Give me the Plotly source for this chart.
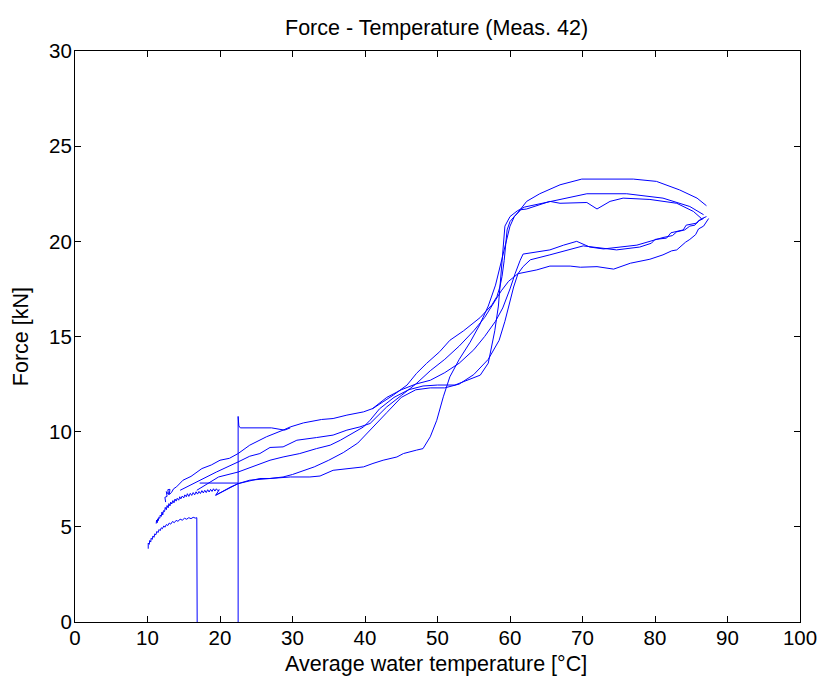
import plotly.graph_objects as go

# ---- data (temperature [°C], force [kN]) ----
start_T = [22.5, 22.5, 22.6, 22.8, 25.0, 27.1, 28.9, 29.7]
start_F = [0.0, 10.8, 10.3, 10.2, 10.2, 10.2, 10.08, 10.2]

top_T = [12.5, 12.4, 12.7, 12.6, 12.9, 12.8, 13.1, 13.0, 13.3, 13.6, 14.0, 14.9, 16.0, 17.5, 18.8, 20.0, 21.3,
         22.5, 24.1, 25.5, 26.4, 28.7, 29.7, 31.5, 34.0, 35.6, 37.5, 39.8, 41.1, 42.5, 43.9, 45.8, 47.1,
         48.5, 50.3, 51.7, 53.6, 55.9, 57.5, 58.2, 58.6, 58.9, 59.2, 59.6, 60.0, 61.4, 62.3, 64.1, 66.9,
         69.9, 73.0, 77.0, 80.2, 83.4, 85.8, 87.1]
top_F = [6.3, 6.55, 6.6, 6.85, 6.7, 6.95, 6.97, 6.7, 6.8, 7.0, 7.1, 7.45, 7.65, 8.06, 8.25, 8.5, 8.6,
         8.85, 9.29, 9.55, 9.73, 10.08, 10.25, 10.46, 10.64, 10.69, 10.87, 11.04, 11.22, 11.57, 11.92, 12.45, 13.06,
         13.59, 14.2, 14.8, 15.3, 16.0, 16.66, 17.1, 17.6, 18.15, 19.0, 20.6, 21.04, 21.66, 22.1, 22.5, 22.97,
         23.27, 23.27, 23.27, 23.15, 22.7, 22.27, 21.87]

mid_T = [11.2, 11.25, 11.35, 11.4, 11.5, 11.55, 11.7, 11.75, 11.9, 12.0, 12.1, 12.2, 12.35, 12.45, 12.6, 12.7,
         12.85, 12.95, 13.1, 13.2, 13.35, 13.5, 13.65, 13.8, 13.95, 14.1, 14.3, 14.45, 14.6, 14.8, 15.0, 15.15,
         15.35, 15.5, 15.7, 15.9, 16.1, 16.3, 16.5, 16.7, 16.9, 17.1, 17.3, 17.5, 17.7, 17.9, 18.1, 18.3,
         18.5, 18.7, 18.9, 19.1, 19.3, 19.5, 19.7, 19.9, 19.4, 20.5,
         21.5, 22.5, 24.1, 26.9, 29.7, 32.4, 33.8, 35.6, 37.9, 39.8, 41.1, 42.5, 44.4, 45.3, 47.1, 48.0,
         49.0, 49.9, 50.8, 51.7, 53.0, 54.5, 55.8, 57.0, 58.0, 59.0, 60.0, 60.6, 61.5, 62.3, 65.5, 66.9,
         70.6, 72.0, 73.8, 75.6, 79.3, 83.0, 85.3, 86.4]
mid_F = [5.17, 5.35, 5.22, 5.42, 5.33, 5.5, 5.45, 5.62, 5.55, 5.78, 5.62, 5.85, 5.8, 6.02, 5.9, 6.12,
         6.0, 6.22, 6.1, 6.3, 6.2, 6.38, 6.26, 6.46, 6.35, 6.5, 6.4, 6.58, 6.47, 6.62, 6.52, 6.68,
         6.58, 6.74, 6.6, 6.76, 6.65, 6.8, 6.68, 6.84, 6.72, 6.86, 6.75, 6.9, 6.78, 6.92, 6.8, 6.95,
         6.83, 6.97, 6.86, 7.0, 6.88, 7.0, 6.9, 6.95, 6.66, 6.9,
         7.1, 7.27, 7.45, 7.54, 7.62, 7.62, 7.67, 7.97, 8.06, 8.15, 8.33, 8.5, 8.67, 8.85, 9.03, 9.11,
         9.73, 10.6, 11.83, 12.88, 13.8, 14.7, 15.6, 16.6, 17.7, 19.2, 20.8, 21.3, 21.66, 21.7, 22.1, 22.0,
         22.04, 21.7, 22.1, 22.27, 22.2, 22.0, 21.57, 21.2]

low2_T = [14.5, 16.8, 19.5, 22.5, 24.1, 25.5, 26.9, 28.7, 30.6, 33.3, 35.6, 37.5, 39.3, 40.7, 41.6, 43.0,
          45.0, 47.0, 49.0, 51.0, 53.0, 55.0, 56.5, 57.8, 58.8, 59.8, 60.5, 61.1, 61.8, 62.8, 65.5, 70.1,
          74.7, 77.9, 79.5, 80.0, 81.6, 82.2, 83.9, 84.3, 85.8, 86.2, 87.1]
low2_F = [6.92, 7.36, 7.88, 8.41, 8.71, 8.85, 9.17, 9.2, 9.55, 9.69, 9.82, 10.08, 10.25, 10.43, 10.78, 11.3,
          11.9, 12.5, 13.2, 13.8, 14.5, 15.3, 16.0, 16.8, 17.4, 17.9, 18.1, 18.3, 18.67, 19.03, 19.29, 19.76,
          19.55, 19.7, 19.9, 20.1, 20.17, 20.45, 20.6, 20.85, 20.96, 21.15, 21.3]

low3_T = [16.8, 19.8, 22.5, 24.1, 25.5, 26.9, 28.7, 31.0, 33.3, 35.2, 36.6, 37.9, 39.8, 40.7, 42.0, 44.0,
          46.0, 48.0, 50.0, 52.4, 54.9, 55.9, 57.0, 57.5, 57.9, 58.4, 58.6, 58.9, 59.3, 60.0, 61.0, 62.0,
          65.5, 70.6, 76.1, 81.1, 84.8, 86.7]
low3_F = [6.92, 7.62, 7.88, 8.11, 8.33, 8.5, 8.67, 8.85, 9.11, 9.29, 9.55, 9.82, 10.25, 10.6, 11.2, 11.8,
          12.2, 12.4, 12.45, 12.45, 12.8, 12.97, 13.6, 14.5, 15.3, 16.6, 17.6, 18.85, 20.8, 21.3, 21.6, 21.8,
          22.1, 22.5, 22.5, 22.27, 21.83, 21.4]

cool_T = [87.4, 87.0, 86.7, 86.0, 85.6, 84.8, 84.2, 83.0, 82.3, 81.1, 79.3, 76.6, 74.3, 72.0, 69.7, 68.3,
          65.5, 63.7, 61.8, 61.1, 60.5, 60.0, 59.3, 58.5, 57.0, 55.0, 53.0, 51.0, 49.0, 47.0, 45.0, 43.0,
          41.0, 39.0, 37.0, 35.0, 33.0, 30.0, 28.7, 26.9, 25.5, 22.5, 19.4]
cool_F = [21.2, 21.0, 20.8, 20.65, 20.35, 20.1, 19.95, 19.55, 19.5, 19.29, 19.06, 18.85, 18.54, 18.67, 18.64, 18.7,
          18.7, 18.5, 18.36, 18.3, 17.6, 16.8, 15.8, 14.8, 13.8, 13.0, 12.5, 12.3, 12.3, 12.2, 11.8, 11.0,
          10.2, 9.4, 8.9, 8.5, 8.15, 7.75, 7.62, 7.54, 7.54, 7.27, 6.66]

cool2_T = [86.7, 85.9, 85.5, 84.8, 84.1, 83.0, 82.4, 81.1, 77.5, 72.9, 71.0, 69.2, 67.4, 65.5, 61.8, 61.4,
           60.7, 60.0, 59.0, 58.0, 56.5, 55.0, 53.0, 51.0, 49.0, 47.0, 45.0, 43.0, 41.0]
cool2_F = [21.2, 21.05, 20.85, 20.8, 20.6, 20.5, 20.3, 20.2, 19.8, 19.6, 19.7, 20.0, 19.8, 19.55, 19.33, 19.0,
           18.3, 17.5, 16.5, 15.8, 15.0, 14.3, 13.6, 13.1, 12.7, 12.5, 12.2, 11.8, 11.2]

jump_T = [17.2, 20.0, 22.5]
jump_F = [7.3, 7.3, 7.3]

end_T = [10.1, 10.05, 10.15, 10.1, 10.25, 10.3, 10.45, 10.5, 10.65, 10.75, 10.9, 11.0, 11.15, 11.3, 11.45,
         11.6, 11.75, 11.9, 12.05, 12.25, 12.4, 12.6, 12.8, 13.0, 13.2, 13.45, 13.7, 13.95, 14.2, 14.5,
         14.8, 15.1, 15.4, 15.7, 16.0, 16.3, 16.6, 16.8, 16.85]
end_F = [3.85, 4.02, 3.96, 4.15, 4.08, 4.28, 4.2, 4.4, 4.34, 4.52, 4.45, 4.63, 4.58, 4.76, 4.7,
         4.86, 4.8, 4.95, 4.9, 5.05, 4.98, 5.12, 5.07, 5.2, 5.14, 5.28, 5.22, 5.34, 5.29, 5.4,
         5.35, 5.45, 5.4, 5.48, 5.43, 5.5, 5.46, 5.48, 0.0]

x_ticks = [0, 10, 20, 30, 40, 50, 60, 70, 80, 90, 100]
y_ticks = [0, 5, 10, 15, 20, 25, 30]

segments = [(start_T, start_F), (top_T, top_F), (mid_T, mid_F), (low2_T, low2_F),
            (low3_T, low3_F), (cool_T, cool_F), (cool2_T, cool2_F), (jump_T, jump_F),
            (end_T, end_F)]

fig = go.Figure()
for tx, fy in segments:
    fig.add_trace(go.Scatter(x=tx, y=fy, mode="lines",
                             line=dict(color="#0000ff", width=1),
                             showlegend=False, hoverinfo="skip"))

font = "Liberation Sans, Arial, Helvetica, sans-serif"
axis_common = dict(showline=True, linecolor="black", linewidth=1, mirror="allticks",
                   ticks="inside", ticklen=6, tickcolor="black", tickwidth=1,
                   showgrid=False, zeroline=False, automargin=False,
                   tickfont=dict(family=font, size=20.5, color="black"))
fig.update_layout(
    width=821, height=680,
    margin=dict(l=75, r=21, t=51, b=58),
    paper_bgcolor="white", plot_bgcolor="white",
    xaxis=dict(range=[0, 100], tickvals=x_ticks, ticktext=[str(v) for v in x_ticks],
               ticklabelstandoff=-3, **axis_common),
    yaxis=dict(range=[0, 30], tickvals=y_ticks, ticktext=[str(v) for v in y_ticks],
               ticklabelstandoff=-2, **axis_common),
    annotations=[
        dict(text="Force - Temperature (Meas. 42)", xref="paper", yref="paper",
             x=0.498, y=1.040, xanchor="center", yanchor="middle", showarrow=False,
             font=dict(family=font, size=21.5, color="black")),
        dict(text="Average water temperature [°C]", xref="paper", yref="paper",
             x=0.498, y=-0.073, xanchor="center", yanchor="middle", showarrow=False,
             font=dict(family=font, size=21.5, color="black")),
        dict(text="Force [kN]", xref="paper", yref="paper", textangle=-90,
             x=-0.075, y=0.50, xanchor="center", yanchor="middle", showarrow=False,
             font=dict(family=font, size=21.5, color="black")),
    ],
)
fig.write_html("out.html", config={"displayModeBar": False},
               post_script="document.body.style.margin='0';document.body.style.overflow='hidden';")
